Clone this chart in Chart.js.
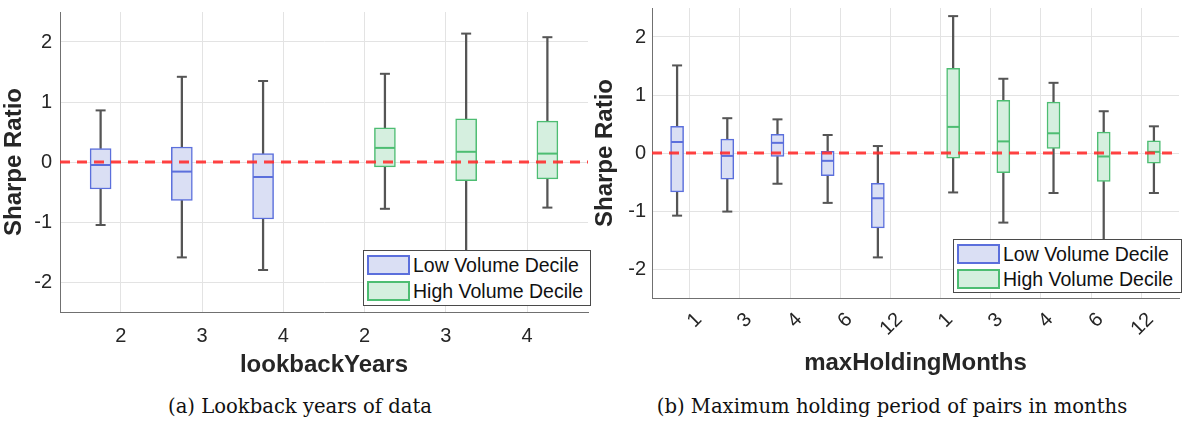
<!DOCTYPE html>
<html>
<head>
<meta charset="utf-8">
<script src="https://cdn.jsdelivr.net/npm/chart.js@4.4.1/dist/chart.umd.min.js"></script>
<style>
  html, body { margin: 0; padding: 0; background: #ffffff; }
  body { width: 1187px; height: 422px; position: relative; overflow: hidden; font-family: "Liberation Sans", Arial, sans-serif; }
  canvas { position: absolute; top: 0; }
  #cLeft { left: 0px; }
  #cRight { left: 590px; }
  .legend { position: absolute; background: #ffffff; border: 1px solid #4a4a4a; box-sizing: border-box; }
  .legend .sw { position: absolute; box-sizing: border-box; border-width: 2px; border-style: solid; }
  .legend .tx { position: absolute; font-family: "Liberation Sans", Arial, sans-serif; font-size: 19.5px; color: #111; white-space: nowrap; line-height: 20px; }
  .caption { position: absolute; font-family: "DejaVu Serif", "Liberation Serif", serif; font-size: 19.6px; color: #111; white-space: nowrap; text-align: center; }
</style>
</head>
<body>
<canvas id="cLeft" width="600" height="380"></canvas>
<canvas id="cRight" width="597" height="378"></canvas>

<div class="legend" id="legLeft" style="left:363px; top:250px; width:228px; height:56px;"></div>
<div class="legend" id="legRight" style="left:953px; top:239px; width:229px; height:54px;"></div>

<div class="caption" id="capLeft" style="left:100px; width:400px; top:395px;">(a) Lookback years of data</div>
<div class="caption" id="capRight" style="left:642px; width:500px; top:395px;">(b) Maximum holding period of pairs in months</div>

<script>
// ---------------- DATA ----------------
const seriesNames = ['Low Volume Decile', 'High Volume Decile'];
const yTicks = [-2, -1, 0, 1, 2];

// (a) lookbackYears
const leftCategories = ['2', '3', '4', '2', '3', '4'];
const leftLowMax = [0.86, 1.42, 1.35];
const leftLowQ3  = [0.225, 0.25, 0.14];
const leftLowMed = [-0.05, -0.16, -0.25];
const leftLowQ1  = [-0.45, -0.64, -0.95];
const leftLowMin = [-1.05, -1.59, -1.80];
const leftHighMax = [1.47, 2.14, 2.08];
const leftHighQ3  = [0.57, 0.72, 0.68];
const leftHighMed = [0.235, 0.17, 0.14];
const leftHighQ1  = [-0.08, -0.31, -0.28];
const leftHighMin = [-0.78, -2.30, -0.76];

// (b) maxHoldingMonths
const rightCategories = ['1', '3', '4', '6', '12', '1', '3', '4', '6', '12'];
const rightLowMax = [1.51, 0.60, 0.58, 0.31, 0.12];
const rightLowQ3  = [0.46, 0.24, 0.32, 0.03, -0.525];
const rightLowMed = [0.19, -0.05, 0.175, -0.135, -0.78];
const rightLowQ1  = [-0.67, -0.45, -0.06, -0.39, -1.29];
const rightLowMin = [-1.08, -1.01, -0.53, -0.86, -1.80];
const rightHighMax = [2.36, 1.28, 1.21, 0.72, 0.46];
const rightHighQ3  = [1.46, 0.91, 0.876, 0.36, 0.21];
const rightHighMed = [0.45, 0.20, 0.34, -0.06, 0.02];
const rightHighQ1  = [-0.09, -0.34, 0.08, -0.49, -0.175];
const rightHighMin = [-0.68, -1.20, -0.69, -2.00, -0.69];

// ---------------- STYLE ----------------
const Y_MIN = -2.5, Y_MAX = 2.5;
const GROUP_OFFSET = 0.25;
const X_PAD = 0.75;
const LOW_STYLE  = { fill: '#dadff4', border: '#5b6fdc' };
const HIGH_STYLE = { fill: '#d5efdf', border: '#4dbd72' };
const WHISKER = '#555555';
const ZERO_LINE = 'rgba(255,45,45,0.9)';
const GRID = '#e3e3e3';
const AXIS = '#707070';
const TEXT = '#262626';
const TICK_FONT = { family: 'Liberation Sans', size: 20 };
const TITLE_FONT = { family: 'Liberation Sans', size: 24, weight: 'bold' };

function boxSets(positions, mx, q3, md, q1, mn, style, boxPx) {
  return [
    { type: 'bar', label: '_wl', data: positions.map((x, i) => ({ x, y: [mn[i], q1[i]] })),
      backgroundColor: WHISKER, barThickness: 1.6, grouped: false, order: 4 },
    { type: 'bar', label: '_wu', data: positions.map((x, i) => ({ x, y: [q3[i], mx[i]] })),
      backgroundColor: WHISKER, barThickness: 1.6, grouped: false, order: 4 },
    { type: 'scatter', label: '_caps',
      data: positions.flatMap((x, i) => [{ x, y: mx[i] }, { x, y: mn[i] }]),
      pointStyle: 'line', pointRadius: 5, pointHoverRadius: 5,
      pointBorderColor: WHISKER, pointBorderWidth: 2, showLine: false, order: 3 },
    { type: 'bar', label: '_box', data: positions.map((x, i) => ({ x, y: [q1[i], q3[i]] })),
      backgroundColor: style.fill, borderColor: style.border, borderWidth: 1.5,
      borderSkipped: false, barThickness: boxPx, grouped: false, order: 2 },
    { type: 'scatter', label: '_med', data: positions.map((x, i) => ({ x, y: md[i] })),
      pointStyle: 'line', pointRadius: boxPx / 2 - 0.5, pointHoverRadius: boxPx / 2 - 0.5,
      pointBorderColor: style.border, pointBorderWidth: 2, showLine: false, order: 1 }
  ];
}

function makeChart(id, cats, low, high, opt) {
  const nLow = low[0].length;
  const xMin = 1 - X_PAD, xMax = cats.length + X_PAD;
  const tickPos = cats.map((c, i) => i + 1);
  const lowPos = low[0].map((v, i) => tickPos[i] - GROUP_OFFSET);
  const highPos = high[0].map((v, i) => tickPos[nLow + i] + GROUP_OFFSET);
  const datasets = [
    ...boxSets(lowPos, ...low, LOW_STYLE, opt.boxPx),
    ...boxSets(highPos, ...high, HIGH_STYLE, opt.boxPx),
    { type: 'line', label: '_zero', data: [{ x: xMin, y: 0 }, { x: xMax, y: 0 }],
      borderColor: ZERO_LINE, borderWidth: 3, borderDash: [10, 7], pointRadius: 0, order: 0 }
  ];
  return new Chart(document.getElementById(id), {
    type: 'bar',
    data: { datasets },
    options: {
      responsive: false, animation: false, devicePixelRatio: 1,
      layout: { padding: opt.padding },
      plugins: { legend: { display: false }, tooltip: { enabled: false } },
      scales: {
        x: {
          type: 'linear', min: xMin, max: xMax, offset: false,
          afterBuildTicks: s => { s.ticks = tickPos.map(v => ({ value: v })); },
          afterFit: s => { s.height = opt.xHeight; s.paddingLeft = 0; s.paddingRight = 0; },
          ticks: { callback: (v, i) => cats[i], font: TICK_FONT, color: TEXT, padding: opt.xTickPad,
                   autoSkip: false, minRotation: opt.rot, maxRotation: opt.rot, labelOffset: opt.labelOffset },
          grid: { color: GRID, drawTicks: false, offset: false },
          border: { display: true, color: AXIS, width: 1 },
          title: { display: true, text: opt.xTitle, font: TITLE_FONT, color: TEXT, padding: { top: 0, bottom: 0 } }
        },
        y: {
          type: 'linear', min: Y_MIN, max: Y_MAX,
          afterBuildTicks: s => { s.ticks = yTicks.map(v => ({ value: v })); },
          afterFit: s => { s.width = opt.yWidth; s.paddingTop = 0; s.paddingBottom = 0; },
          ticks: { font: TICK_FONT, color: TEXT, padding: opt.yTickPad },
          grid: { color: GRID, drawTicks: false },
          border: { display: true, color: AXIS, width: 1 },
          title: { display: true, text: 'Sharpe Ratio', font: TITLE_FONT, color: TEXT, padding: { top: opt.yTitlePad, bottom: 0 } }
        }
      }
    }
  });
}

makeChart('cLeft', leftCategories,
  [leftLowMax, leftLowQ3, leftLowMed, leftLowQ1, leftLowMin],
  [leftHighMax, leftHighQ3, leftHighMed, leftHighQ1, leftHighMin],
  { boxPx: 21, padding: { top: 6, right: 6, left: 0, bottom: 0 }, xHeight: 68, yWidth: 60,
    xTickPad: 12, yTickPad: 8, rot: 0, labelOffset: 0, xTitle: 'lookbackYears', yTitlePad: 0 });

makeChart('cRight', rightCategories,
  [rightLowMax, rightLowQ3, rightLowMed, rightLowQ1, rightLowMin],
  [rightHighMax, rightHighQ3, rightHighMed, rightHighQ1, rightHighMin],
  { boxPx: 13, padding: { top: 1, right: 0, left: 0, bottom: 0 }, xHeight: 80, yWidth: 62,
    xTickPad: 10, yTickPad: 6, rot: 45, labelOffset: 9, xTitle: 'maxHoldingMonths', yTitlePad: 1 });

// ---------------- LEGENDS ----------------
function buildLegend(id, rowCenters) {
  const el = document.getElementById(id);
  const styles = [LOW_STYLE, HIGH_STYLE];
  seriesNames.forEach((name, i) => {
    const sw = document.createElement('div');
    sw.className = 'sw';
    sw.style.cssText = `left:3px; top:${rowCenters[i] - 10}px; width:43px; height:20px; background:${styles[i].fill}; border-color:${styles[i].border};`;
    el.appendChild(sw);
    const tx = document.createElement('div');
    tx.className = 'tx';
    tx.style.cssText = `left:49px; top:${rowCenters[i] - 10}px;`;
    tx.textContent = name;
    el.appendChild(tx);
  });
}
buildLegend('legLeft', [14, 40]);
buildLegend('legRight', [14, 39]);
</script>
</body>
</html>
